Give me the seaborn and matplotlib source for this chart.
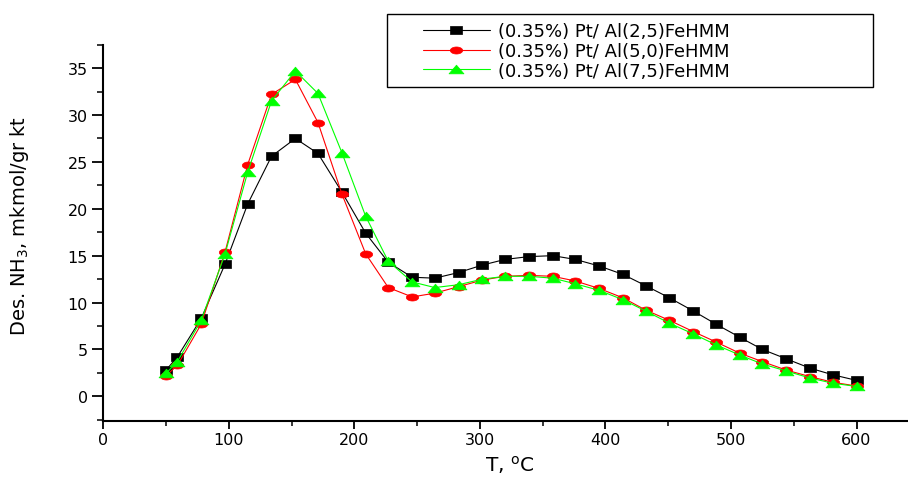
import numpy as np
import pandas as pd
import matplotlib
matplotlib.use("Agg")
import matplotlib.pyplot as plt
import seaborn as sns
from matplotlib.patches import Rectangle
from matplotlib.path import Path
from matplotlib.ticker import MultipleLocator

# ---- data ----
temperature = [50, 59, 78, 97, 115, 134, 153, 171, 190, 209, 227, 246, 264, 283,
               302, 320, 339, 358, 376, 395, 414, 432, 451, 470, 488, 507, 525,
               544, 563, 581, 600]
pt_al25 = [2.8, 4.2, 8.3, 14.1, 20.5, 25.6, 27.5, 25.9, 21.8, 17.4, 14.3, 12.7,
           12.6, 13.2, 14.0, 14.6, 14.9, 15.0, 14.6, 13.9, 13.0, 11.8, 10.5, 9.1,
           7.7, 6.3, 5.0, 4.0, 3.0, 2.3, 1.7]
pt_al50 = [2.2, 3.3, 7.7, 15.4, 24.7, 32.2, 33.8, 29.2, 21.6, 15.2, 11.6, 10.6,
           11.0, 11.7, 12.4, 12.8, 12.9, 12.8, 12.3, 11.5, 10.5, 9.2, 8.1, 6.9,
           5.8, 4.6, 3.7, 2.8, 2.1, 1.5, 1.1]
pt_al75 = [2.45, 3.7, 8.1, 15.2, 23.9, 31.5, 34.7, 32.3, 26.0, 19.2, 14.4, 12.2,
           11.6, 11.9, 12.5, 12.8, 12.8, 12.6, 12.0, 11.3, 10.3, 9.1, 7.8, 6.65,
           5.5, 4.4, 3.45, 2.7, 1.95, 1.4, 1.05]
series_labels = ["(0.35%) Pt/ Al(2,5)FeHMM",
                 "(0.35%) Pt/ Al(5,0)FeHMM",
                 "(0.35%) Pt/ Al(7,5)FeHMM"]
x_label = "T, $^\\mathregular{o}$C"
y_label = "Des. NH$_\\mathregular{3}$, mkmol/gr kt"

# ---- style ----
sns.set_style("ticks")
plt.rcParams["font.family"] = ["DejaVu Sans"]
plt.rcParams["text.color"] = "black"
plt.rcParams["axes.labelcolor"] = "black"

W, H = 908, 481
fig = plt.figure(figsize=(W / 100, H / 100), dpi=100)
ax = fig.add_axes([103.3 / W, 59.3 / H, (W - 103.3) / W, 376.0 / H])

# marker shapes (wide, like the stretched original)
sq = Path([(-1, -0.59), (1, -0.59), (1, 0.59), (-1, 0.59), (-1, -0.59)], closed=True)
tt = np.linspace(0, 2 * np.pi, 41)
ell = Path(np.column_stack([np.cos(tt), 0.57 * np.sin(tt)]), closed=True)
tri = Path([(-1, -0.58), (1, -0.58), (0, 0.58), (-1, -0.58)], closed=True)

specs = [
    (pt_al25, "#000000", sq, 8.9),
    (pt_al50, "#ff0000", ell, 8.9),
    (pt_al75, "#00ff00", tri, 10.8),
]
for (vals, col, mk, ms), lab in zip(specs, series_labels):
    sns.lineplot(x=temperature, y=vals, ax=ax, color=col, linewidth=0.8,
                 marker=mk, markersize=ms, markeredgewidth=0.5,
                 markeredgecolor=col, markerfacecolor=col, label=lab)

ax.set_xlim(0, 641)
ax.set_ylim(-2.6, 37.5)
ax.xaxis.set_major_locator(MultipleLocator(100))
ax.xaxis.set_minor_locator(MultipleLocator(50))
ax.yaxis.set_major_locator(MultipleLocator(5))
ax.yaxis.set_minor_locator(MultipleLocator(2.5))

for s in ["top", "right"]:
    ax.spines[s].set_visible(False)
for s in ["left", "bottom"]:
    ax.spines[s].set_linewidth(1.5)
    ax.spines[s].set_color("black")

ax.tick_params(colors="black", direction="out")
ax.tick_params(axis="y", which="major", length=8, width=1.3, labelsize=11.5, pad=3)
ax.tick_params(axis="y", which="minor", length=4.5, width=1.3)
ax.tick_params(axis="x", which="major", length=5.8, width=1.3, labelsize=11.5, pad=2)
ax.tick_params(axis="x", which="minor", length=3.6, width=1.3)

ax.set_xlabel(x_label, fontsize=14.5, color="black")
ax.set_ylabel(y_label, fontsize=14, color="black")
ax.xaxis.set_label_coords(0.505, -0.085)
ax.yaxis.set_label_coords(-0.09, 0.52)

handles, labs = ax.get_legend_handles_labels()
leg = ax.legend(handles, labs, loc="center left",
                bbox_to_anchor=(423 / W, 1 - 52 / H), bbox_transform=fig.transFigure,
                frameon=False, borderpad=0, borderaxespad=0, handlelength=3.7,
                handletextpad=0.45, labelspacing=0.1, fontsize=13)
for t in leg.get_texts():
    t.set_color("black")
fig.add_artist(Rectangle((387 / W, 1 - 88 / H), 486 / W, 73 / H,
                         transform=fig.transFigure, fill=False,
                         edgecolor="black", linewidth=1.0))

fig.savefig("out.png", dpi=100)
